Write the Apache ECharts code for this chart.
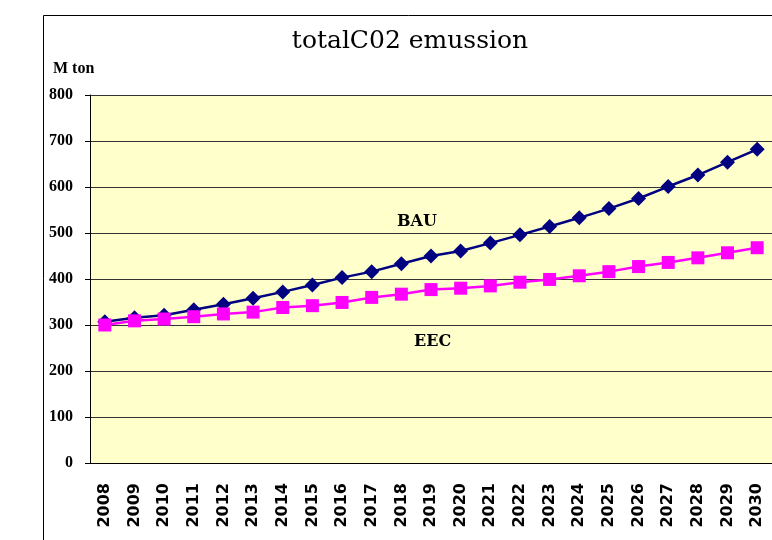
<!DOCTYPE html>
<html><head><meta charset="utf-8">
<script src="https://cdn.jsdelivr.net/npm/echarts@6/dist/echarts.min.js"></script>
<style>html,body{margin:0;padding:0;background:#fff}#c{width:772px;height:540px}</style>
</head><body><div id="c"></div>
<script>
const years = ['2008','2009','2010','2011','2012','2013','2014','2015','2016','2017','2018','2019','2020','2021','2022','2023','2024','2025','2026','2027','2028','2029','2030'];
const bau = [307,316,321,333,345,358,372,387,403,416,433,450,461,478,496,514,533,553,575,601,626,654,682];
const eec = [300,309,313,318,324,328,338,342,349,360,367,377,380,385,393,399,407,416,427,436,446,457,468];
const yMin = 0, yMax = 800, yStep = 100;

const chart = echarts.init(document.getElementById('c'), null, {renderer:'canvas'});
chart.setOption({
  animation:false,
  backgroundColor:'#ffffff',
  title:{text:'totalC02 emussion', left:405, top:24, textAlign:'center',
    textStyle:{fontFamily:'DejaVu Serif', fontSize:25, fontWeight:'normal', color:'#000'}},
  graphic:[
    {type:'rect', shape:{x:43.5,y:15.5,width:800,height:600}, style:{fill:'none',stroke:'#000',lineWidth:1}, z:-1},
    {type:'text', left:53, top:61, style:{text:'M ton', font:'bold 16px "Liberation Serif"', fill:'#000'}},
    {type:'text', left:397, top:214, style:{text:'BAU', font:'bold 16px "DejaVu Serif"', fill:'#000'}},
    {type:'text', left:414, top:334, style:{text:'EEC', font:'bold 16px "DejaVu Serif"', fill:'#000'}}
  ],
  grid:{left:90, top:95, width:685, height:368, show:true, backgroundColor:'#FFFFCC', borderWidth:0},
  xAxis:{type:'category', data:years, boundaryGap:true,
    axisLine:{lineStyle:{color:'#000',width:1}},
    axisTick:{inside:true,length:6,lineStyle:{color:'#000'}},
    axisLabel:{rotate:90, margin:20, fontFamily:'DejaVu Sans', fontWeight:'bold', fontSize:16, color:'#000'},
    splitLine:{show:false}},
  yAxis:{type:'value', min:yMin, max:yMax, interval:yStep,
    axisLine:{show:true,lineStyle:{color:'#000',width:1}},
    axisTick:{show:true,length:5,lineStyle:{color:'#000'}},
    axisLabel:{margin:17, fontFamily:'Liberation Serif', fontWeight:'bold', fontSize:16, color:'#000'},
    splitLine:{lineStyle:{color:'#333',width:1}}},
  series:[
    {name:'BAU', type:'line', data:bau, symbol:'diamond', symbolSize:[15,15],
      lineStyle:{color:'#000080',width:2.5}, itemStyle:{color:'#000080'}, z:3},
    {name:'EEC', type:'line', data:eec, symbol:'rect', symbolSize:[13,13],
      lineStyle:{color:'#FF00FF',width:2.5}, itemStyle:{color:'#FF00FF'}, z:4}
  ]
});
</script></body></html>
